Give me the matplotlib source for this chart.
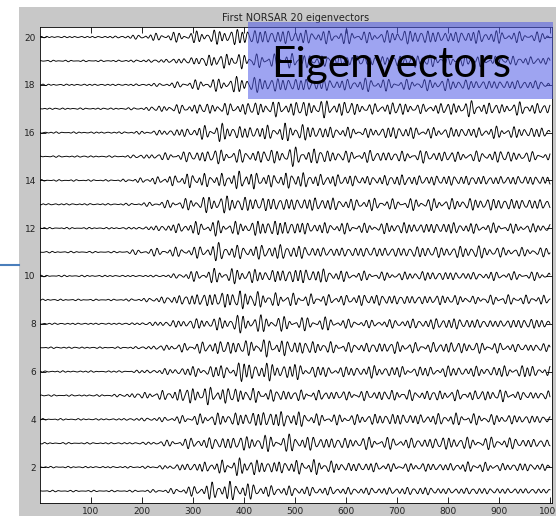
import numpy as np
import matplotlib.pyplot as plt
from matplotlib.patches import Rectangle

# envelope of each eigenvector (trace 1 at the bottom, 20 at the top),
# sampled every 50 points along 0..1000
env_pos = np.arange(0, 1001, 50)
envelopes = [
    [.03, .03, .03, .03, .04, .08, .20, .40, .35, .22, .20, .18, .15, .15, .15, .18, .12, .15, .12, .12, .10],  # 1
    [.03, .03, .03, .03, .04, .08, .18, .25, .38, .25, .28, .30, .18, .20, .15, .18, .15, .22, .15, .18, .12],  # 2
    [.03, .03, .03, .03, .04, .12, .22, .25, .30, .32, .35, .25, .22, .25, .22, .20, .28, .22, .25, .20, .15],  # 3
    [.03, .03, .03, .03, .06, .10, .20, .25, .28, .35, .32, .22, .20, .22, .25, .20, .25, .22, .20, .18, .15],  # 4
    [.03, .03, .03, .05, .12, .20, .35, .35, .30, .25, .22, .20, .18, .20, .22, .20, .22, .20, .25, .15, .18],  # 5
    [.03, .03, .03, .03, .06, .12, .20, .25, .40, .35, .32, .22, .20, .25, .22, .20, .22, .20, .22, .25, .20],  # 6
    [.03, .03, .03, .03, .05, .12, .20, .28, .30, .35, .30, .25, .20, .20, .25, .18, .25, .22, .20, .15, .18],  # 7
    [.03, .03, .03, .03, .05, .12, .20, .25, .38, .32, .25, .28, .18, .15, .18, .20, .25, .20, .15, .22, .20],  # 8
    [.03, .03, .03, .03, .06, .15, .25, .32, .40, .28, .25, .22, .20, .25, .20, .18, .22, .15, .20, .18, .18],  # 9
    [.03, .03, .03, .03, .03, .05, .20, .30, .30, .25, .32, .30, .20, .18, .15, .20, .18, .15, .18, .15, .20],  # 10
    [.03, .03, .03, .03, .12, .18, .20, .38, .25, .32, .30, .20, .20, .22, .20, .25, .22, .28, .20, .18, .18],  # 11
    [.03, .03, .03, .03, .05, .15, .25, .30, .25, .35, .28, .22, .22, .18, .25, .20, .25, .20, .20, .18, .18],  # 12
    [.03, .03, .03, .03, .06, .15, .25, .38, .30, .30, .25, .30, .22, .25, .20, .25, .22, .25, .25, .22, .22],  # 13
    [.03, .03, .03, .03, .10, .18, .30, .25, .40, .25, .35, .25, .25, .18, .25, .20, .22, .20, .18, .20, .18],  # 14
    [.03, .03, .03, .03, .08, .15, .22, .30, .25, .28, .38, .30, .22, .25, .20, .25, .22, .20, .25, .20, .18],  # 15
    [.03, .03, .03, .03, .06, .12, .20, .38, .25, .30, .38, .25, .22, .18, .28, .20, .22, .20, .25, .22, .20],  # 16
    [.03, .03, .03, .03, .05, .15, .20, .22, .25, .30, .30, .35, .30, .20, .28, .18, .25, .32, .20, .28, .18],  # 17
    [.03, .03, .03, .03, .04, .08, .18, .25, .35, .30, .28, .25, .22, .28, .20, .22, .25, .20, .18, .20, .15],  # 18
    [.03, .03, .03, .03, .05, .08, .15, .30, .30, .25, .30, .22, .25, .20, .22, .28, .18, .22, .20, .18, .15],  # 19
    [.03, .03, .03, .04, .10, .18, .22, .30, .35, .28, .30, .25, .30, .20, .28, .30, .22, .28, .25, .20, .20],  # 20
]
# periods (samples) of the three oscillation components of each trace
period_a = [11.6, 11.2, 12.0, 11.4, 11.8, 11.1, 11.9, 11.5, 11.7, 11.3,
            12.1, 11.0, 11.6, 11.4, 12.2, 11.2, 11.8, 11.5, 11.7, 11.3]
period_b = [8.9, 8.6, 9.2, 8.8, 8.5, 9.1, 8.7, 9.0, 8.6, 8.9,
            9.3, 8.7, 9.0, 8.4, 9.1, 8.8, 8.6, 9.0, 8.5, 8.9]
period_c = [16.5, 17.8, 15.9, 17.2, 16.1, 18.0, 16.7, 15.6, 17.5, 16.3,
            17.0, 15.8, 16.9, 17.6, 16.0, 17.3, 15.7, 16.6, 17.9, 16.2]
phase_a = [0.3, 1.7, 2.9, 4.1, 5.2, 0.9, 2.2, 3.6, 4.8, 6.0,
           1.2, 2.5, 3.9, 5.5, 0.6, 1.9, 3.2, 4.5, 5.8, 0.1]
phase_b = [2.1, 4.4, 0.7, 3.3, 5.9, 1.5, 4.0, 0.2, 2.8, 5.1,
           3.7, 0.4, 2.6, 4.9, 1.1, 3.5, 5.7, 2.0, 0.8, 4.2]
phase_c = [4.6, 0.8, 3.1, 5.4, 1.9, 4.2, 0.5, 2.7, 5.0, 1.3,
           3.8, 6.1, 2.2, 0.1, 4.9, 2.9, 1.6, 5.7, 3.4, 0.9]

xticks = np.arange(100, 1001, 100)
yticks = np.arange(2, 21, 2)

# grey figure panel, with a thin white margin along the top and left
fig = plt.figure(figsize=(5.56, 5.16), dpi=100, facecolor="#c8c8c8")
fig.patches.append(Rectangle((0, 0), 19 / 556, 1, transform=fig.transFigure,
                             facecolor="white", edgecolor="none"))
fig.patches.append(Rectangle((0, 1 - 7 / 516), 1, 7 / 516, transform=fig.transFigure,
                             facecolor="white", edgecolor="none"))
fig.lines.append(plt.Line2D([0, 19 / 556], [1 - 265 / 516] * 2, transform=fig.transFigure,
                            color="#4a7ebb", lw=1.5))

ax = fig.add_axes([40 / 556, 13 / 516, 512 / 556, 476 / 516])
ax.set_facecolor("white")

s = np.arange(1, 1001)
for i, env in enumerate(envelopes):
    a = np.interp(s, env_pos, env)
    wave = (0.6 * np.sin(2 * np.pi * s / period_a[i] + phase_a[i])
            + 0.3 * np.sin(2 * np.pi * s / period_b[i] + phase_b[i])
            + 0.25 * np.sin(2 * np.pi * s / period_c[i] + phase_c[i]))
    ax.plot(s, i + 1 + a * wave, color="black", lw=0.65)

ax.set_xlim(1, 1004)
ax.set_ylim(0.5, 20.42)
ax.set_xticks(xticks)
ax.set_yticks(yticks)
ax.tick_params(direction="in", length=4, width=0.6, top=True, right=True,
               labelsize=6.5, labelcolor="#222222", pad=3)
for sp in ax.spines.values():
    sp.set_linewidth(0.6)
ax.set_title("First NORSAR 20 eigenvectors", fontsize=7, color="#222222", pad=4)

# highlighted label box over the upper-right traces
box = Rectangle((248 / 556, 1 - 99 / 516), 305 / 556, 77 / 516,
                transform=fig.transFigure, facecolor=(0.31, 0.35, 0.90),
                alpha=0.55, edgecolor="none", zorder=5)
fig.add_artist(box)
fig.text(271 / 556, 1 - 77 / 516, "Eigenvectors", fontsize=30.5, family="Lato",
         color="black", ha="left", va="baseline", zorder=6)

fig.savefig("out.png", dpi=100, facecolor=fig.get_facecolor())
